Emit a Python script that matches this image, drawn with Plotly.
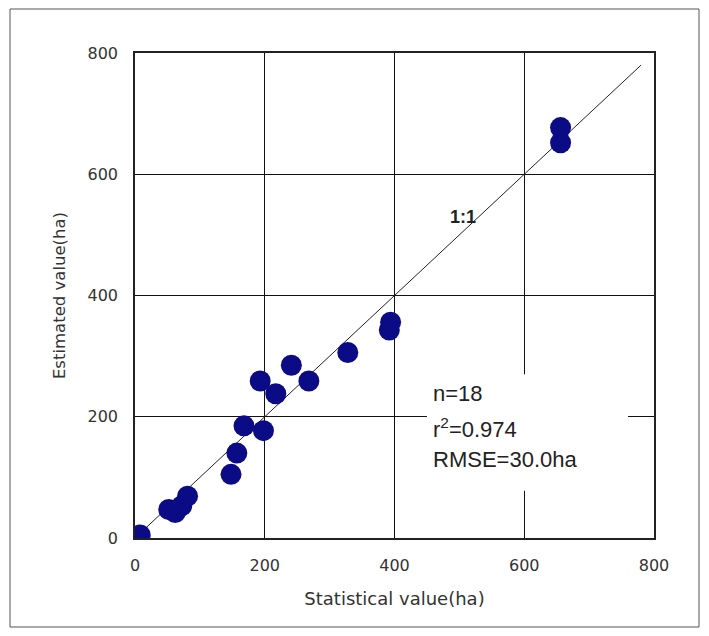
import plotly.graph_objects as go

# Data (ha)
statistical = [8, 52, 62, 72, 81, 148, 157, 168, 193, 198, 217, 241, 268, 328, 392, 394, 656, 656]
estimated = [5, 47, 42, 53, 69, 105, 140, 185, 259, 177, 238, 285, 259, 306, 343, 356, 652, 677]
one_to_one = [0, 780]
tick_vals = [0, 200, 400, 600, 800]
stats_lines = ["n=18", "r<sup>2</sup>=0.974", "RMSE=30.0ha"]
stats_y = [239, 181, 130]

AXFONT = "DejaVu Sans, sans-serif"
TXFONT = "Liberation Sans, Arial, sans-serif"

W, H = 701, 628
L, T = 127, 45
PW, PH = 519, 485

fig = go.Figure()
fig.add_trace(go.Scatter(x=one_to_one, y=one_to_one, mode="lines",
                         line=dict(color="#222222", width=1), hoverinfo="skip",
                         showlegend=False))
fig.add_trace(go.Scatter(x=statistical, y=estimated, mode="markers",
                         marker=dict(color="#0B0B85", size=21, line=dict(width=0)),
                         showlegend=False))

axis_common = dict(range=[0, 800], tickvals=tick_vals, showgrid=True, gridcolor="#111111",
                   gridwidth=1, showline=True, linecolor="#222222", linewidth=1.5, mirror=True,
                   zeroline=False, ticks="", tickfont=dict(family=AXFONT, size=16, color="#333333"),
                   fixedrange=True)

fig.update_layout(
    width=W, height=H, autosize=False,
    margin=dict(l=L, r=W - L - PW, t=T, b=H - T - PH),
    paper_bgcolor="white", plot_bgcolor="white",
    xaxis=dict(**axis_common, ticklabelstandoff=12,
               title=dict(text="Statistical value(ha)", font=dict(family=AXFONT, size=18, color="#333333"),
                          standoff=18)),
    yaxis=dict(**axis_common, ticklabelstandoff=12,
               title=dict(text="Estimated value(ha)", font=dict(family=AXFONT, size=16.5, color="#333333"),
                          standoff=18)),
    font=dict(family=TXFONT),
)

# white box behind stats text
fig.add_shape(type="rect", xref="x", yref="y", x0=450, x1=760, y0=78, y1=270,
              fillcolor="white", line=dict(width=0), layer="above")
# outer frame
fig.add_shape(type="rect", xref="paper", yref="paper",
              x0=(2 - L) / PW, x1=(691 - L) / PW, y0=-(619 - T - PH) / PH, y1=1 + (T - 1) / PH,
              line=dict(color="#555555", width=1), fillcolor="rgba(0,0,0,0)", layer="above")

for txt, yy in zip(stats_lines, stats_y):
    fig.add_annotation(x=456, y=yy, xref="x", yref="y", text=txt, showarrow=False,
                       xanchor="left", yanchor="middle",
                       font=dict(family=TXFONT, size=22, color="#222222"))

fig.add_annotation(x=505, y=530, xref="x", yref="y", text="<b>1:1</b>", showarrow=False,
                   font=dict(family=TXFONT, size=18, color="#222222"))

fig.write_html("out.html")
